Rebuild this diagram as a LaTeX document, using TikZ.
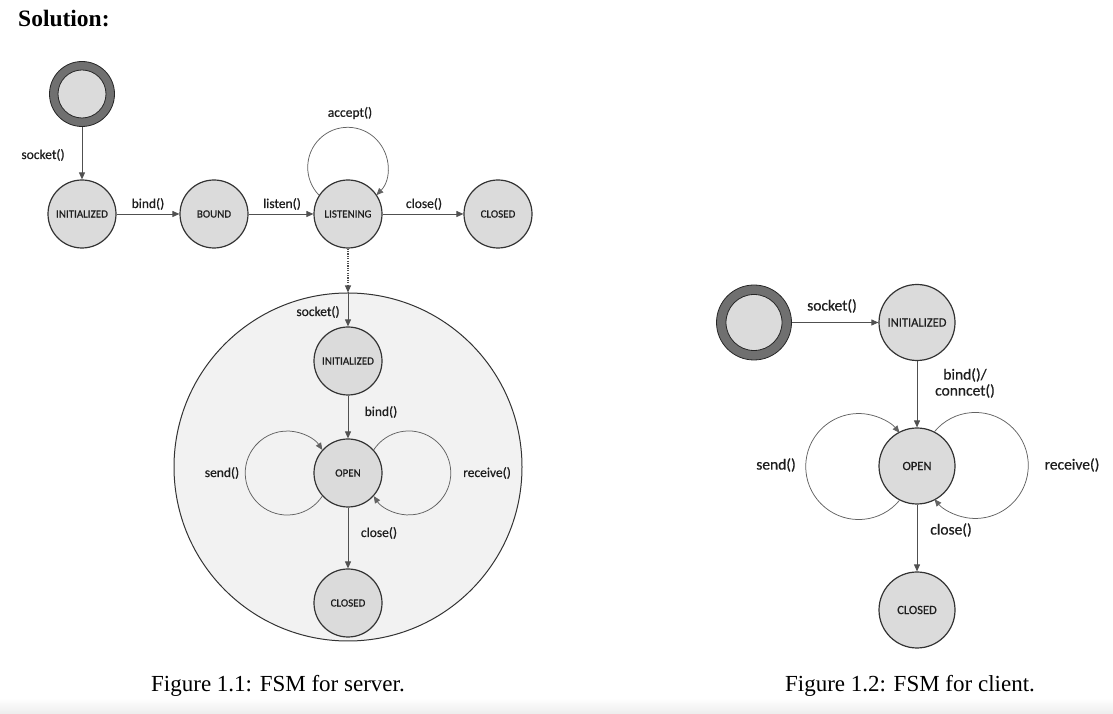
\documentclass[tikz,border=0pt]{standalone}
\usepackage{fontspec}
\setmainfont{Liberation Serif}
\newfontfamily\carlito[RawFeature={embolden=0.6}]{Carlito}
\usetikzlibrary{arrows.meta}
\definecolor{nodefill}{HTML}{DBDBDB}
\definecolor{ringc}{HTML}{707070}
\definecolor{edgec}{HTML}{333333}
\definecolor{linec}{HTML}{505050}
\definecolor{loopc}{HTML}{626262}
\definecolor{subfill}{HTML}{F2F2F2}
\definecolor{txt}{HTML}{1E1E1E}
\tikzset{
  st/.style={circle, draw=edgec, fill=nodefill, line width=1.2pt, minimum size=68pt, inner sep=0pt,
    font=\carlito\fontsize{11}{11}\selectfont, text=txt},
  stc/.style={st, minimum size=76pt, font=\carlito\fontsize{12.5}{13}\selectfont},
  ringst/.style={circle, draw=black!85, fill=ringc, line width=0.8pt, inner sep=0pt},
  innerst/.style={circle, draw=black!85, fill=nodefill, line width=0.8pt, inner sep=0pt},
  lbl/.style={font=\carlito\fontsize{13.5}{14}\selectfont, text=txt, inner sep=0pt},
  lblc/.style={lbl, font=\carlito\fontsize{15.5}{16}\selectfont},
  tip/.style={-{Triangle[length=7pt,width=6pt]}},
  tr/.style={draw=linec, line width=0.9pt, tip},
  lp/.style={draw=loopc, line width=0.75pt, tip},
  figcap/.style={font=\fontsize{23}{24}\selectfont, inner sep=0pt},
}
\begin{document}
\begin{tikzpicture}[x=1pt,y=1pt]
\useasboundingbox (0,0) rectangle (1113,714);
\shade[top color=white, bottom color=black!7] (0,0) rectangle (1113,16);

% heading
\node[anchor=base west, inner sep=0pt, font=\bfseries\fontsize{23.5}{24}\selectfont] (head) at (18,687) {Solution:};

% ---------------- server ----------------
\node[ringst, minimum size=65pt] (s1) at (82,620) {};
\node[innerst, minimum size=48pt] (s1in) at (s1) {};
\node[st] (i1) at (82,500) {INITIALIZED};
\node[st] (b1) at (214,500) {BOUND};
\node[st] (l1) at (348,500) {LISTENING};
\node[st] (c1) at (498,500) {CLOSED};

\node[circle, draw=edgec, fill=subfill, line width=1pt, minimum size=348pt, inner sep=0pt] (sub) at (348,247) {};
\node[st] (i2) at (348,353) {INITIALIZED};
\node[st] (o1) at (348,241) {OPEN};
\node[st] (c2) at (348,111) {CLOSED};

\draw[tr] (s1) -- (i1);
\draw[tr] (i1) -- (b1);
\draw[tr] (b1) -- (l1);
\draw[tr] (l1) -- (c1);
\draw[draw=linec, line width=1.1pt, dash pattern=on 1.2pt off 1.2pt, tip] (l1) -- (sub.north);
\draw[tr] (sub.north) -- (i2);
\draw[tr] (i2) -- (o1);
\draw[tr] (o1) -- (c2);

% loops
\draw[lp] (l1.147.7) arc[start angle=224.1, end angle=-44.1, radius=40];
\draw[lp] (o1.222.8) arc[start angle=-33.4, end angle=-326.6, radius=42];
\draw[lp] (o1.42.8) arc[start angle=146.6, end angle=-146.6, radius=42];

\node[lbl] (ls1) at (43,559) {socket()};
\node[lbl] (lb1) at (148,510) {bind()};
\node[lbl] (ll1) at (282,510) {listen()};
\node[lbl] (lc1) at (424,510) {close()};
\node[lbl] (la1) at (350,601) {accept()};
\node[lbl] (ls2) at (318,402) {socket()};
\node[lbl] (lb2) at (381,302) {bind()};
\node[lbl] (lsd1) at (222,241) {send()};
\node[lbl] (lr1) at (487,241) {receive()};
\node[lbl] (lc2) at (379,181) {close()};

\node[figcap] (cap1) at (278,28) {Figure 1.1: FSM for server.};

% ---------------- client ----------------
\node[ringst, minimum size=75pt] (s2) at (754,391.5) {};
\node[innerst, minimum size=56pt] (s2in) at (s2) {};
\node[stc] (i3) at (917,391.5) {INITIALIZED};
\node[stc] (o2) at (917,248) {OPEN};
\node[stc] (c3) at (917,104) {CLOSED};

\draw[tr] (s2) -- (i3);
\draw[tr] (i3) -- (o2);
\draw[tr] (o2) -- (c3);
\draw[lp] (o2.243.1) arc[start angle=-39.7, end angle=-320.3, radius=53];
\draw[lp] (o2.63.1) arc[start angle=140.3, end angle=-140.3, radius=53];

\node[lblc] (ls3) at (832,408) {socket()};
\node[lblc, align=center] (lb3) at (965,331) {bind()/\\conncet()};
\node[lblc] (lsd2) at (776,249) {send()};
\node[lblc] (lr2) at (1072,249) {receive()};
\node[lblc] (lc3) at (951,184) {close()};

\node[figcap] (cap2) at (910,28) {Figure 1.2: FSM for client.};
\end{tikzpicture}
\end{document}
